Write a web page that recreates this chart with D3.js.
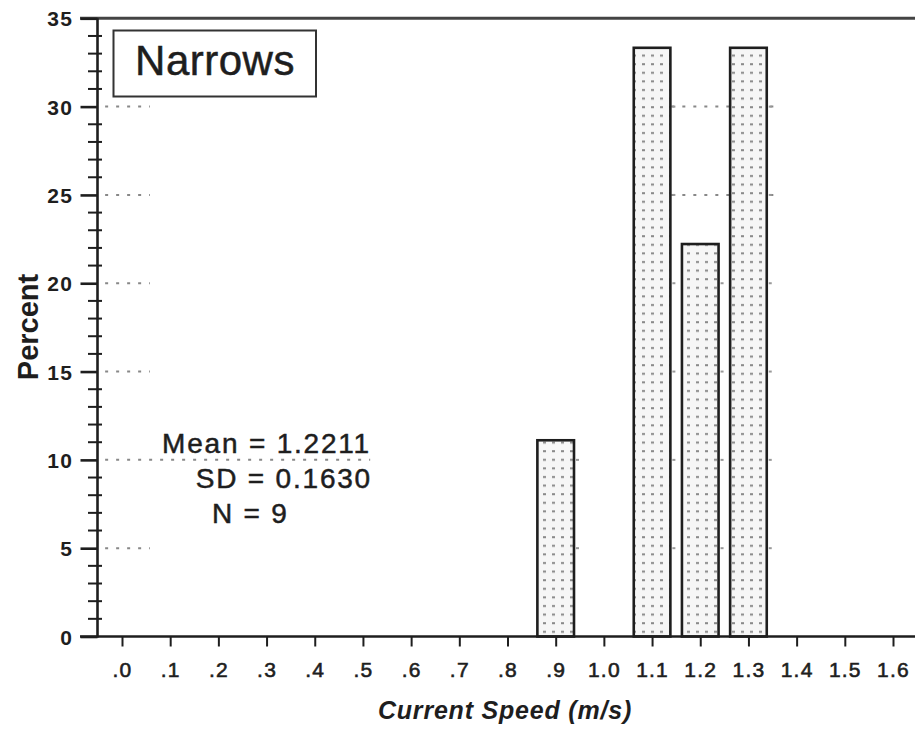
<!DOCTYPE html>
<html>
<head>
<meta charset="utf-8">
<script src="https://cdn.jsdelivr.net/npm/d3@7"></script>
<style>
  html, body { margin: 0; padding: 0; background: #fff; }
  svg { display: block; font-family: "Liberation Sans", Arial, Helvetica, sans-serif; }
</style>
</head>
<body>
<svg id="chart" width="915" height="730"></svg>
<script>
// Histogram of current speed at the Narrows station
const panelTitle = "Narrows";
const speedBins = [0.9, 1.1, 1.2, 1.3];
const percentValues = [11.11, 33.33, 22.22, 33.33];
const xTickValues = [0, 0.1, 0.2, 0.3, 0.4, 0.5, 0.6, 0.7, 0.8, 0.9, 1.0, 1.1, 1.2, 1.3, 1.4, 1.5, 1.6];
const xTickLabels = [".0", ".1", ".2", ".3", ".4", ".5", ".6", ".7", ".8", ".9", "1.0", "1.1", "1.2", "1.3", "1.4", "1.5", "1.6"];
const yTickValues = [0, 5, 10, 15, 20, 25, 30, 35];
const yMinorTicks = d3.range(1, 35).filter(v => v % 5 !== 0);
const statLines = ["Mean = 1.2211", "SD = 0.1630", "N = 9"];
const xTitle = "Current Speed (m/s)";
const yTitle = "Percent";
// visible pieces of the dotted reference lines: [percent, speed from, speed to]
const gridPieces = [
  [30, -0.035, 0.058], [25, -0.035, 0.058], [20, -0.035, 0.058],
  [15, -0.035, 0.058], [10, -0.035, 0.515], [5, -0.035, 0.058],
  [30, 1.14, 1.365], [25, 1.14, 1.365]
];

const svg = d3.select("#chart");
const ink = "#1e1e1e";

const x = d3.scaleLinear().domain([0, 1.6]).range([122, 893]);
const y = d3.scaleLinear().domain([0, 35]).range([636.5, 18.3]);
const binWidth = 0.076;

// dotted bar fill
const defs = svg.append("defs");
const pat = defs.append("pattern")
  .attr("id", "dots").attr("patternUnits", "userSpaceOnUse")
  .attr("width", 9).attr("height", 8.6);
pat.append("rect").attr("width", 9).attr("height", 8.6).attr("fill", "#f6f6f6");
pat.append("rect").attr("x", 3).attr("y", 3).attr("width", 3).attr("height", 2).attr("fill", "#8a8a8a");

// dotted reference lines
svg.append("g").selectAll("line").data(gridPieces).join("line")
  .attr("x1", d => x(d[1])).attr("x2", d => x(d[2]))
  .attr("y1", d => y(d[0])).attr("y2", d => y(d[0]))
  .attr("stroke", "#888").attr("stroke-width", 2)
  .attr("stroke-dasharray", "3,8");

// bars
const bars = speedBins.map((s, i) => ({ s, p: percentValues[i] }));
svg.append("g").selectAll("rect").data(bars).join("rect")
  .attr("x", d => x(d.s - binWidth / 2))
  .attr("width", d => x(d.s + binWidth / 2) - x(d.s - binWidth / 2))
  .attr("y", d => y(d.p))
  .attr("height", d => y(0) - y(d.p))
  .attr("fill", "url(#dots)")
  .attr("stroke", ink).attr("stroke-width", 2.6);

// small reference marks peeking out beside the bars
const peeks = [];
bars.forEach(b => yTickValues.filter(v => v > 0 && v < b.p).forEach(v => peeks.push({ s: b.s, v })));
svg.append("g").selectAll("line").data(peeks).join("line")
  .attr("x1", d => x(d.s + binWidth / 2) + 2).attr("x2", d => x(d.s + binWidth / 2) + 5)
  .attr("y1", d => y(d.v)).attr("y2", d => y(d.v))
  .attr("stroke", "#999").attr("stroke-width", 2);

// frame: top rule, left axis, baseline
svg.append("line").attr("x1", 80).attr("x2", 915).attr("y1", y(35)).attr("y2", y(35))
  .attr("stroke", "#444").attr("stroke-width", 3);
svg.append("line").attr("x1", 97.5).attr("x2", 97.5).attr("y1", y(35)).attr("y2", y(0) + 1)
  .attr("stroke", ink).attr("stroke-width", 2.6);
svg.append("line").attr("x1", 80).attr("x2", 915).attr("y1", y(0)).attr("y2", y(0))
  .attr("stroke", ink).attr("stroke-width", 2.6);

// y axis: major ticks with labels, minor ticks crossing the axis
const yAxis = d3.axisLeft(y).tickValues(yTickValues).tickSize(17).tickPadding(8).tickSizeOuter(0);
const gy = svg.append("g").attr("transform", "translate(97.5,0)").call(yAxis);
gy.select(".domain").remove();
gy.selectAll(".tick line").attr("stroke", ink).attr("stroke-width", 2.6);
gy.selectAll(".tick text")
  .attr("fill", ink).attr("font-size", 21).attr("font-weight", "bold")
  .attr("letter-spacing", 1.5).attr("x", -24).attr("dy", "0.36em");
svg.append("g").selectAll("line").data(yMinorTicks).join("line")
  .attr("x1", 88).attr("x2", 102)
  .attr("y1", d => y(d)).attr("y2", d => y(d))
  .attr("stroke", ink).attr("stroke-width", 2);

// x axis
const xAxis = d3.axisBottom(x).tickValues(xTickValues)
  .tickFormat((d, i) => xTickLabels[i]).tickSize(10).tickPadding(16).tickSizeOuter(0);
const gx = svg.append("g").attr("transform", `translate(0,${y(0)})`).call(xAxis);
gx.select(".domain").remove();
gx.selectAll(".tick line").attr("stroke", ink).attr("stroke-width", 2);
gx.selectAll(".tick text")
  .attr("fill", ink).attr("font-size", 21).attr("letter-spacing", 1.2)
  .attr("stroke", ink).attr("stroke-width", 0.6);

// panel label box
svg.append("rect").attr("x", 113.5).attr("y", 30.5).attr("width", 202.5).attr("height", 66)
  .attr("fill", "#fff").attr("stroke", "#333").attr("stroke-width", 2);
svg.append("text").attr("x", 215).attr("y", 75).attr("text-anchor", "middle")
  .attr("font-size", 42).attr("letter-spacing", 0.5).attr("fill", ink)
  .attr("stroke", ink).attr("stroke-width", 0.5).text(panelTitle);

// summary statistics
const statPos = [[371, 453, "end"], [372, 488, "end"], [212, 523, "start"]];
svg.append("g").selectAll("text").data(statLines).join("text")
  .attr("x", (d, i) => statPos[i][0]).attr("y", (d, i) => statPos[i][1])
  .attr("text-anchor", (d, i) => statPos[i][2])
  .attr("font-size", 28).attr("letter-spacing", 1.8).attr("fill", ink)
  .attr("stroke", ink).attr("stroke-width", 0.5)
  .text(d => d);

// axis titles
svg.append("text").attr("x", 505).attr("y", 719).attr("text-anchor", "middle")
  .attr("font-size", 25).attr("font-weight", "bold").attr("font-style", "italic")
  .attr("letter-spacing", 0.8).attr("fill", ink).text(xTitle);
svg.append("text").attr("transform", "translate(38,327) rotate(-90)")
  .attr("text-anchor", "middle").attr("font-size", 29).attr("font-weight", "bold")
  .attr("fill", ink).text(yTitle);
</script>
</body>
</html>
